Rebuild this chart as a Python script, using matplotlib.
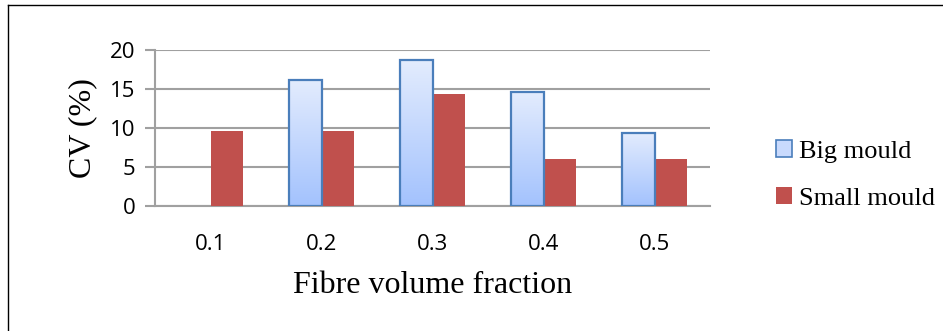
import numpy as np
import matplotlib.pyplot as plt
from matplotlib.lines import Line2D
from matplotlib.patches import Patch

# CV of fibre content for both mould sizes
fractions = ['0.1', '0.2', '0.3', '0.4', '0.5']
big_mould = [0, 16.1, 18.7, 14.6, 9.4]
small_mould = [9.6, 9.6, 14.4, 6.0, 6.0]

grid_col = '#a0a0a0'
big_edge = '#4a7ebb'
small_col = '#c0504d'

fig = plt.figure(figsize=(9.43, 3.31), dpi=100)
ax = fig.add_axes([155 / 943, 1 - 206 / 331, 555 / 943, 156 / 331])

x = np.arange(len(fractions))
w = 0.29

# gradient image used to fill the big mould bars
grad = np.linspace(0, 1, 256).reshape(-1, 1)
cmap = plt.matplotlib.colors.LinearSegmentedColormap.from_list(
    'bluefade', ['#a3c2fe', '#e3ecfd'])

big_bars = ax.bar(x - w / 2, big_mould, w, color='none', edgecolor=big_edge,
                  linewidth=1.6, zorder=4)
for b, v in zip(big_bars, big_mould):
    if v <= 0:
        b.set_visible(False)
        continue
    x0, x1 = b.get_x(), b.get_x() + b.get_width()
    im = ax.imshow(grad, extent=(x0, x1, 0, v), origin='lower', cmap=cmap,
                   aspect='auto', zorder=3)
    im.set_clip_path(b)

ax.bar(x + w / 2, small_mould, w, color=small_col, edgecolor='none', zorder=3)

ax.set_xlim(-0.5, len(fractions) - 0.5)
ax.set_ylim(0, 20)
ax.set_yticks([0, 5, 10, 15, 20])
ax.set_xticks(x)
ax.set_xticklabels(fractions)

ax.grid(axis='y', color=grid_col, linewidth=1.5, zorder=0)
ax.set_axisbelow(True)
for s in ['top', 'right']:
    ax.spines[s].set_visible(False)
ax.spines['left'].set_color(grid_col)
ax.spines['bottom'].set_color(grid_col)
ax.spines['left'].set_linewidth(1.5)
ax.spines['bottom'].set_linewidth(1.5)

ax.tick_params(axis='y', length=7, width=1.5, color=grid_col, pad=7,
               labelsize=16)
ax.tick_params(axis='x', length=0, pad=20, labelsize=16)
for lab in ax.get_xticklabels() + ax.get_yticklabels():
    lab.set_fontfamily('Open Sans')

ax.set_ylabel('CV (%)', family='Liberation Serif', fontsize=23, labelpad=9)
ax.set_xlabel('Fibre volume fraction', family='Liberation Serif',
              fontsize=23, labelpad=12)

handles = [Patch(facecolor='#c9dafd', edgecolor=big_edge, linewidth=1.2),
           Patch(facecolor=small_col, edgecolor='none')]
fig.legend(handles, ['Big mould', 'Small mould'], loc='center left',
           bbox_to_anchor=(763 / 943, 1 - 175 / 331), frameon=False,
           prop={'family': 'Liberation Serif', 'size': 19},
           handlelength=0.6, handleheight=0.6, handletextpad=0.25,
           labelspacing=0.9, borderpad=0)

# outer frame lines
fig.add_artist(Line2D([8 / 943, 942 / 943], [1 - 5 / 331, 1 - 5 / 331],
                      transform=fig.transFigure, color='black', linewidth=1))
fig.add_artist(Line2D([8 / 943, 8 / 943], [1 - 5 / 331, 0],
                      transform=fig.transFigure, color='black', linewidth=1))

fig.savefig('out.png', dpi=100)
